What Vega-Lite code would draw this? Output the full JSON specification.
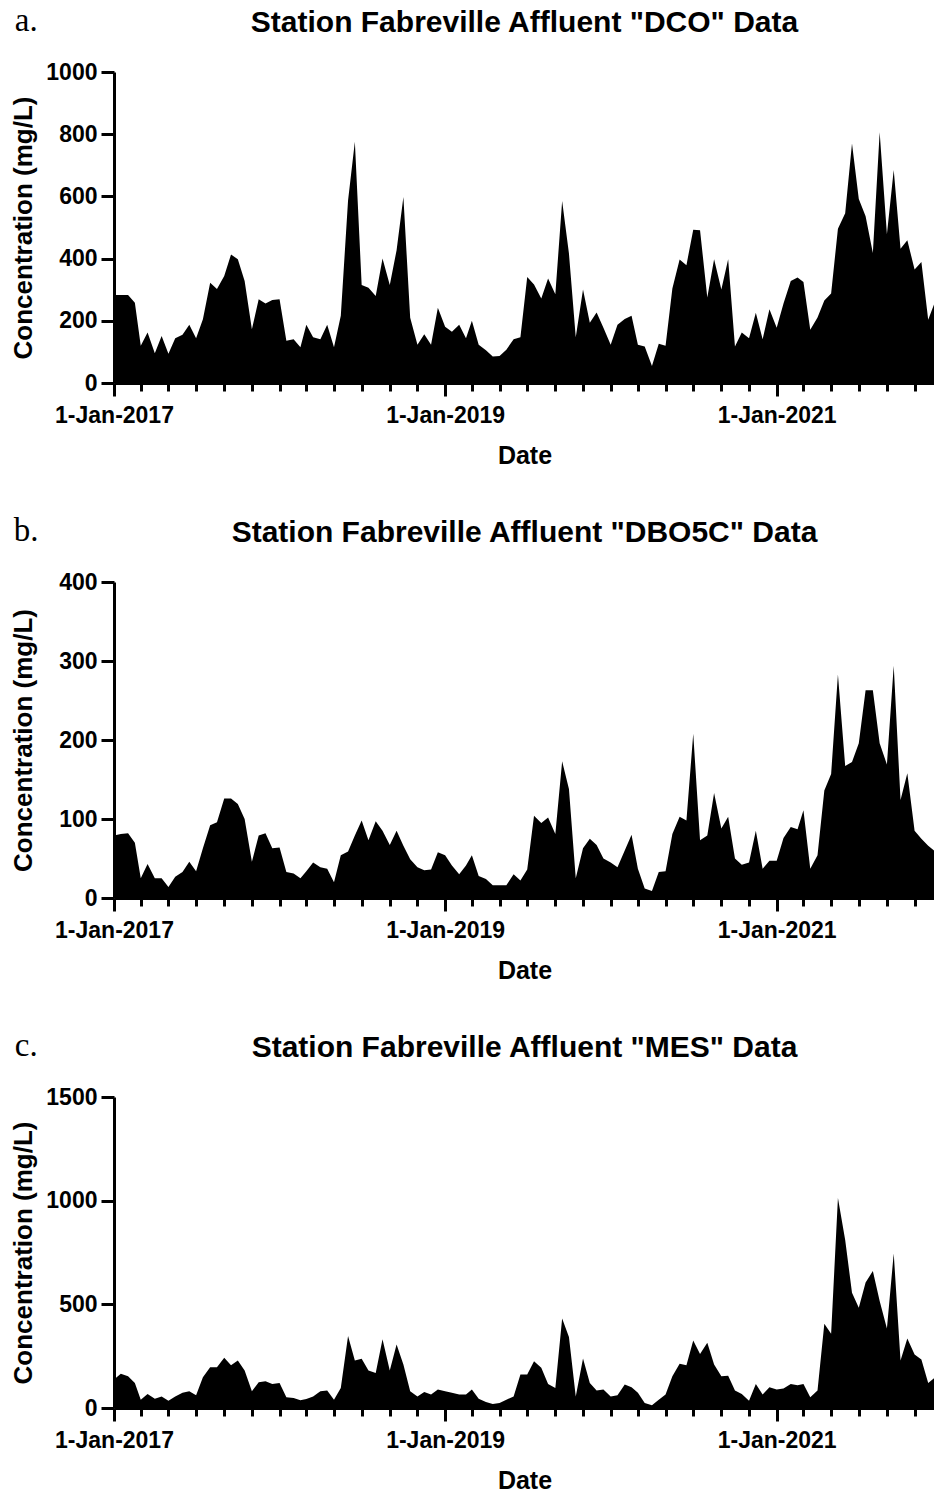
{
  "$schema": "https://vega.github.io/schema/vega-lite/v6.json",
  "padding": {"left": 10, "top": 5, "right": 0, "bottom": 0},
  "background": "white",
  "datasets": {
    "fab": [
      {"date":"2017-01-01","DCO":283,"DBO5C":79,"MES":137},
      {"date":"2017-01-16","DCO":283,"DBO5C":81,"MES":165},
      {"date":"2017-02-01","DCO":283,"DBO5C":82,"MES":153},
      {"date":"2017-02-16","DCO":258,"DBO5C":70,"MES":121},
      {"date":"2017-03-01","DCO":120,"DBO5C":25,"MES":40},
      {"date":"2017-03-16","DCO":162,"DBO5C":43,"MES":68},
      {"date":"2017-04-01","DCO":96,"DBO5C":25,"MES":45},
      {"date":"2017-04-16","DCO":151,"DBO5C":25,"MES":56},
      {"date":"2017-05-01","DCO":94,"DBO5C":14,"MES":35},
      {"date":"2017-05-16","DCO":144,"DBO5C":27,"MES":56},
      {"date":"2017-06-01","DCO":155,"DBO5C":33,"MES":73},
      {"date":"2017-06-16","DCO":187,"DBO5C":46,"MES":81},
      {"date":"2017-07-01","DCO":144,"DBO5C":34,"MES":61},
      {"date":"2017-07-16","DCO":205,"DBO5C":63,"MES":148},
      {"date":"2017-08-01","DCO":322,"DBO5C":92,"MES":197},
      {"date":"2017-08-16","DCO":302,"DBO5C":96,"MES":197},
      {"date":"2017-09-01","DCO":344,"DBO5C":126,"MES":242},
      {"date":"2017-09-16","DCO":413,"DBO5C":126,"MES":206},
      {"date":"2017-10-01","DCO":398,"DBO5C":119,"MES":229},
      {"date":"2017-10-16","DCO":328,"DBO5C":100,"MES":181},
      {"date":"2017-11-01","DCO":173,"DBO5C":46,"MES":81},
      {"date":"2017-11-16","DCO":269,"DBO5C":79,"MES":124},
      {"date":"2017-12-01","DCO":256,"DBO5C":82,"MES":129},
      {"date":"2017-12-16","DCO":267,"DBO5C":63,"MES":116},
      {"date":"2018-01-01","DCO":269,"DBO5C":64,"MES":121},
      {"date":"2018-01-16","DCO":136,"DBO5C":33,"MES":52},
      {"date":"2018-02-01","DCO":141,"DBO5C":31,"MES":48},
      {"date":"2018-02-16","DCO":115,"DBO5C":25,"MES":37},
      {"date":"2018-03-01","DCO":187,"DBO5C":34,"MES":44},
      {"date":"2018-03-16","DCO":147,"DBO5C":45,"MES":56},
      {"date":"2018-04-01","DCO":141,"DBO5C":39,"MES":81},
      {"date":"2018-04-16","DCO":187,"DBO5C":37,"MES":84},
      {"date":"2018-05-01","DCO":115,"DBO5C":20,"MES":40},
      {"date":"2018-05-16","DCO":216,"DBO5C":54,"MES":97},
      {"date":"2018-06-01","DCO":587,"DBO5C":59,"MES":347},
      {"date":"2018-06-16","DCO":776,"DBO5C":79,"MES":229},
      {"date":"2018-07-01","DCO":315,"DBO5C":98,"MES":237},
      {"date":"2018-07-16","DCO":306,"DBO5C":73,"MES":181},
      {"date":"2018-08-01","DCO":280,"DBO5C":97,"MES":169},
      {"date":"2018-08-16","DCO":400,"DBO5C":85,"MES":331},
      {"date":"2018-09-01","DCO":315,"DBO5C":67,"MES":181},
      {"date":"2018-09-16","DCO":427,"DBO5C":85,"MES":306},
      {"date":"2018-10-01","DCO":598,"DBO5C":66,"MES":210},
      {"date":"2018-10-16","DCO":210,"DBO5C":49,"MES":81},
      {"date":"2018-11-01","DCO":123,"DBO5C":39,"MES":56},
      {"date":"2018-11-16","DCO":157,"DBO5C":35,"MES":77},
      {"date":"2018-12-01","DCO":123,"DBO5C":36,"MES":65},
      {"date":"2018-12-16","DCO":242,"DBO5C":58,"MES":89},
      {"date":"2019-01-01","DCO":181,"DBO5C":54,"MES":81},
      {"date":"2019-01-16","DCO":165,"DBO5C":41,"MES":73},
      {"date":"2019-02-01","DCO":187,"DBO5C":30,"MES":65},
      {"date":"2019-02-16","DCO":144,"DBO5C":41,"MES":65},
      {"date":"2019-03-01","DCO":200,"DBO5C":54,"MES":89},
      {"date":"2019-03-16","DCO":123,"DBO5C":28,"MES":45},
      {"date":"2019-04-01","DCO":105,"DBO5C":24,"MES":29},
      {"date":"2019-04-16","DCO":85,"DBO5C":16,"MES":19},
      {"date":"2019-05-01","DCO":87,"DBO5C":16,"MES":24},
      {"date":"2019-05-16","DCO":107,"DBO5C":16,"MES":40},
      {"date":"2019-06-01","DCO":141,"DBO5C":30,"MES":56},
      {"date":"2019-06-16","DCO":147,"DBO5C":22,"MES":161},
      {"date":"2019-07-01","DCO":341,"DBO5C":36,"MES":161},
      {"date":"2019-07-16","DCO":317,"DBO5C":104,"MES":226},
      {"date":"2019-08-01","DCO":272,"DBO5C":95,"MES":194},
      {"date":"2019-08-16","DCO":336,"DBO5C":102,"MES":116},
      {"date":"2019-09-01","DCO":285,"DBO5C":81,"MES":97},
      {"date":"2019-09-16","DCO":585,"DBO5C":173,"MES":432},
      {"date":"2019-10-01","DCO":416,"DBO5C":138,"MES":342},
      {"date":"2019-10-16","DCO":147,"DBO5C":25,"MES":56},
      {"date":"2019-11-01","DCO":301,"DBO5C":63,"MES":239},
      {"date":"2019-11-16","DCO":194,"DBO5C":75,"MES":121},
      {"date":"2019-12-01","DCO":227,"DBO5C":67,"MES":84},
      {"date":"2019-12-16","DCO":178,"DBO5C":50,"MES":89},
      {"date":"2020-01-01","DCO":123,"DBO5C":45,"MES":56},
      {"date":"2020-01-16","DCO":187,"DBO5C":39,"MES":61},
      {"date":"2020-02-01","DCO":206,"DBO5C":60,"MES":113},
      {"date":"2020-02-16","DCO":216,"DBO5C":80,"MES":100},
      {"date":"2020-03-01","DCO":123,"DBO5C":37,"MES":73},
      {"date":"2020-03-16","DCO":117,"DBO5C":12,"MES":24},
      {"date":"2020-04-01","DCO":55,"DBO5C":9,"MES":13},
      {"date":"2020-04-16","DCO":126,"DBO5C":33,"MES":40},
      {"date":"2020-05-01","DCO":120,"DBO5C":34,"MES":65},
      {"date":"2020-05-16","DCO":304,"DBO5C":81,"MES":153},
      {"date":"2020-06-01","DCO":397,"DBO5C":103,"MES":213},
      {"date":"2020-06-16","DCO":379,"DBO5C":98,"MES":206},
      {"date":"2020-07-01","DCO":493,"DBO5C":208,"MES":326},
      {"date":"2020-07-16","DCO":491,"DBO5C":73,"MES":261},
      {"date":"2020-08-01","DCO":275,"DBO5C":79,"MES":315},
      {"date":"2020-08-16","DCO":398,"DBO5C":133,"MES":210},
      {"date":"2020-09-01","DCO":301,"DBO5C":88,"MES":153},
      {"date":"2020-09-16","DCO":398,"DBO5C":103,"MES":156},
      {"date":"2020-10-01","DCO":117,"DBO5C":50,"MES":84},
      {"date":"2020-10-16","DCO":162,"DBO5C":42,"MES":68},
      {"date":"2020-11-01","DCO":144,"DBO5C":45,"MES":35},
      {"date":"2020-11-16","DCO":226,"DBO5C":85,"MES":116},
      {"date":"2020-12-01","DCO":141,"DBO5C":37,"MES":65},
      {"date":"2020-12-16","DCO":237,"DBO5C":47,"MES":100},
      {"date":"2021-01-01","DCO":178,"DBO5C":47,"MES":89},
      {"date":"2021-01-16","DCO":256,"DBO5C":76,"MES":94},
      {"date":"2021-02-01","DCO":328,"DBO5C":90,"MES":116},
      {"date":"2021-02-16","DCO":339,"DBO5C":87,"MES":110},
      {"date":"2021-03-01","DCO":325,"DBO5C":111,"MES":116},
      {"date":"2021-03-16","DCO":171,"DBO5C":37,"MES":52},
      {"date":"2021-04-01","DCO":211,"DBO5C":54,"MES":84},
      {"date":"2021-04-16","DCO":265,"DBO5C":136,"MES":406},
      {"date":"2021-05-01","DCO":288,"DBO5C":157,"MES":358},
      {"date":"2021-05-16","DCO":496,"DBO5C":283,"MES":1013},
      {"date":"2021-06-01","DCO":546,"DBO5C":167,"MES":810},
      {"date":"2021-06-16","DCO":770,"DBO5C":172,"MES":556},
      {"date":"2021-07-01","DCO":592,"DBO5C":196,"MES":484},
      {"date":"2021-07-16","DCO":536,"DBO5C":263,"MES":605},
      {"date":"2021-08-01","DCO":418,"DBO5C":263,"MES":661},
      {"date":"2021-08-16","DCO":806,"DBO5C":196,"MES":516},
      {"date":"2021-09-01","DCO":478,"DBO5C":169,"MES":384},
      {"date":"2021-09-16","DCO":685,"DBO5C":294,"MES":745},
      {"date":"2021-10-01","DCO":432,"DBO5C":124,"MES":229},
      {"date":"2021-10-16","DCO":459,"DBO5C":158,"MES":335},
      {"date":"2021-11-01","DCO":365,"DBO5C":85,"MES":258},
      {"date":"2021-11-16","DCO":389,"DBO5C":75,"MES":234},
      {"date":"2021-12-01","DCO":203,"DBO5C":66,"MES":121},
      {"date":"2021-12-16","DCO":261,"DBO5C":59,"MES":148}
    ]
  },
  "data": {"name": "fab"},
  "spacing": 47,
  "vconcat": [
    {
      "title": {"text": "a.", "anchor": "start", "frame": "bounds", "font": "Liberation Serif", "fontSize": 33, "fontWeight": "normal", "color": "black", "offset": -30, "dx": 4},
      "vconcat": [
        {
          "title": {"text": "Station Fabreville Affluent \"DCO\" Data", "anchor": "middle", "frame": "group", "fontSize": 30, "fontWeight": "bold", "color": "black", "offset": 23},
          "width": 821,
          "height": 311,
          "mark": {"type": "area", "color": "black", "interpolate": "linear"},
          "encoding": {
            "x": {"field": "date", "type": "temporal",
              "scale": {"type": "utc", "domain": [{"year": 2017, "month": 1, "date": 1, "utc": true}, {"year": 2021, "month": 12, "date": 16, "utc": true}]},
              "axis": {"title": "Date", "titlePadding": 16, "labelPadding": 8, "labelFlush": false, "labelOverlap": false,
                "values": [{"year":2017,"month":1,"date":1,"utc":true},{"year":2017,"month":3,"date":1,"utc":true},{"year":2017,"month":5,"date":1,"utc":true},{"year":2017,"month":7,"date":1,"utc":true},{"year":2017,"month":9,"date":1,"utc":true},{"year":2017,"month":11,"date":1,"utc":true},{"year":2018,"month":1,"date":1,"utc":true},{"year":2018,"month":3,"date":1,"utc":true},{"year":2018,"month":5,"date":1,"utc":true},{"year":2018,"month":7,"date":1,"utc":true},{"year":2018,"month":9,"date":1,"utc":true},{"year":2018,"month":11,"date":1,"utc":true},{"year":2019,"month":1,"date":1,"utc":true},{"year":2019,"month":3,"date":1,"utc":true},{"year":2019,"month":5,"date":1,"utc":true},{"year":2019,"month":7,"date":1,"utc":true},{"year":2019,"month":9,"date":1,"utc":true},{"year":2019,"month":11,"date":1,"utc":true},{"year":2020,"month":1,"date":1,"utc":true},{"year":2020,"month":3,"date":1,"utc":true},{"year":2020,"month":5,"date":1,"utc":true},{"year":2020,"month":7,"date":1,"utc":true},{"year":2020,"month":9,"date":1,"utc":true},{"year":2020,"month":11,"date":1,"utc":true},{"year":2021,"month":1,"date":1,"utc":true},{"year":2021,"month":3,"date":1,"utc":true},{"year":2021,"month":5,"date":1,"utc":true},{"year":2021,"month":7,"date":1,"utc":true},{"year":2021,"month":9,"date":1,"utc":true},{"year":2021,"month":11,"date":1,"utc":true}],
                "labelExpr": "(utcmonth(datum.value) == 0 && utcyear(datum.value) % 2 == 1) ? utcFormat(datum.value, '%-d-%b-%Y') : ''",
                "tickSize": {"condition": {"test": "utcmonth(datum.value) == 0 && utcyear(datum.value) % 2 == 1", "value": 13}, "value": 8}}},
            "y": {"field": "DCO", "type": "quantitative", "scale": {"domain": [0, 1000], "nice": false},
              "axis": {"title": "Concentration (mg/L)", "format": "d", "values": [0, 200, 400, 600, 800, 1000], "tickSize": 13, "labelPadding": 4, "titlePadding": 9}}
          }
        }
      ]
    },
    {
      "title": {"text": "b.", "anchor": "start", "frame": "bounds", "font": "Liberation Serif", "fontSize": 33, "fontWeight": "normal", "color": "black", "offset": -30, "dx": 3},
      "vconcat": [
        {
          "title": {"text": "Station Fabreville Affluent \"DBO5C\" Data", "anchor": "middle", "frame": "group", "fontSize": 30, "fontWeight": "bold", "color": "black", "offset": 23},
          "width": 821,
          "height": 316,
          "mark": {"type": "area", "color": "black", "interpolate": "linear"},
          "encoding": {
            "x": {"field": "date", "type": "temporal",
              "scale": {"type": "utc", "domain": [{"year": 2017, "month": 1, "date": 1, "utc": true}, {"year": 2021, "month": 12, "date": 16, "utc": true}]},
              "axis": {"title": "Date", "titlePadding": 16, "labelPadding": 8, "labelFlush": false, "labelOverlap": false,
                "values": [{"year":2017,"month":1,"date":1,"utc":true},{"year":2017,"month":3,"date":1,"utc":true},{"year":2017,"month":5,"date":1,"utc":true},{"year":2017,"month":7,"date":1,"utc":true},{"year":2017,"month":9,"date":1,"utc":true},{"year":2017,"month":11,"date":1,"utc":true},{"year":2018,"month":1,"date":1,"utc":true},{"year":2018,"month":3,"date":1,"utc":true},{"year":2018,"month":5,"date":1,"utc":true},{"year":2018,"month":7,"date":1,"utc":true},{"year":2018,"month":9,"date":1,"utc":true},{"year":2018,"month":11,"date":1,"utc":true},{"year":2019,"month":1,"date":1,"utc":true},{"year":2019,"month":3,"date":1,"utc":true},{"year":2019,"month":5,"date":1,"utc":true},{"year":2019,"month":7,"date":1,"utc":true},{"year":2019,"month":9,"date":1,"utc":true},{"year":2019,"month":11,"date":1,"utc":true},{"year":2020,"month":1,"date":1,"utc":true},{"year":2020,"month":3,"date":1,"utc":true},{"year":2020,"month":5,"date":1,"utc":true},{"year":2020,"month":7,"date":1,"utc":true},{"year":2020,"month":9,"date":1,"utc":true},{"year":2020,"month":11,"date":1,"utc":true},{"year":2021,"month":1,"date":1,"utc":true},{"year":2021,"month":3,"date":1,"utc":true},{"year":2021,"month":5,"date":1,"utc":true},{"year":2021,"month":7,"date":1,"utc":true},{"year":2021,"month":9,"date":1,"utc":true},{"year":2021,"month":11,"date":1,"utc":true}],
                "labelExpr": "(utcmonth(datum.value) == 0 && utcyear(datum.value) % 2 == 1) ? utcFormat(datum.value, '%-d-%b-%Y') : ''",
                "tickSize": {"condition": {"test": "utcmonth(datum.value) == 0 && utcyear(datum.value) % 2 == 1", "value": 13}, "value": 8}}},
            "y": {"field": "DBO5C", "type": "quantitative", "scale": {"domain": [0, 400], "nice": false},
              "axis": {"title": "Concentration (mg/L)", "format": "d", "values": [0, 100, 200, 300, 400], "tickSize": 13, "labelPadding": 4, "titlePadding": 22}}
          }
        }
      ]
    },
    {
      "title": {"text": "c.", "anchor": "start", "frame": "bounds", "font": "Liberation Serif", "fontSize": 33, "fontWeight": "normal", "color": "black", "offset": -30, "dx": 4},
      "vconcat": [
        {
          "title": {"text": "Station Fabreville Affluent \"MES\" Data", "anchor": "middle", "frame": "group", "fontSize": 30, "fontWeight": "bold", "color": "black", "offset": 23},
          "width": 821,
          "height": 311,
          "mark": {"type": "area", "color": "black", "interpolate": "linear"},
          "encoding": {
            "x": {"field": "date", "type": "temporal",
              "scale": {"type": "utc", "domain": [{"year": 2017, "month": 1, "date": 1, "utc": true}, {"year": 2021, "month": 12, "date": 16, "utc": true}]},
              "axis": {"title": "Date", "titlePadding": 16, "labelPadding": 8, "labelFlush": false, "labelOverlap": false,
                "values": [{"year":2017,"month":1,"date":1,"utc":true},{"year":2017,"month":3,"date":1,"utc":true},{"year":2017,"month":5,"date":1,"utc":true},{"year":2017,"month":7,"date":1,"utc":true},{"year":2017,"month":9,"date":1,"utc":true},{"year":2017,"month":11,"date":1,"utc":true},{"year":2018,"month":1,"date":1,"utc":true},{"year":2018,"month":3,"date":1,"utc":true},{"year":2018,"month":5,"date":1,"utc":true},{"year":2018,"month":7,"date":1,"utc":true},{"year":2018,"month":9,"date":1,"utc":true},{"year":2018,"month":11,"date":1,"utc":true},{"year":2019,"month":1,"date":1,"utc":true},{"year":2019,"month":3,"date":1,"utc":true},{"year":2019,"month":5,"date":1,"utc":true},{"year":2019,"month":7,"date":1,"utc":true},{"year":2019,"month":9,"date":1,"utc":true},{"year":2019,"month":11,"date":1,"utc":true},{"year":2020,"month":1,"date":1,"utc":true},{"year":2020,"month":3,"date":1,"utc":true},{"year":2020,"month":5,"date":1,"utc":true},{"year":2020,"month":7,"date":1,"utc":true},{"year":2020,"month":9,"date":1,"utc":true},{"year":2020,"month":11,"date":1,"utc":true},{"year":2021,"month":1,"date":1,"utc":true},{"year":2021,"month":3,"date":1,"utc":true},{"year":2021,"month":5,"date":1,"utc":true},{"year":2021,"month":7,"date":1,"utc":true},{"year":2021,"month":9,"date":1,"utc":true},{"year":2021,"month":11,"date":1,"utc":true}],
                "labelExpr": "(utcmonth(datum.value) == 0 && utcyear(datum.value) % 2 == 1) ? utcFormat(datum.value, '%-d-%b-%Y') : ''",
                "tickSize": {"condition": {"test": "utcmonth(datum.value) == 0 && utcyear(datum.value) % 2 == 1", "value": 13}, "value": 8}}},
            "y": {"field": "MES", "type": "quantitative", "scale": {"domain": [0, 1500], "nice": false},
              "axis": {"title": "Concentration (mg/L)", "format": "d", "values": [0, 500, 1000, 1500], "tickSize": 13, "labelPadding": 4, "titlePadding": 9}}
          }
        }
      ]
    }
  ],
  "config": {
    "view": {"stroke": null},
    "font": "Liberation Sans",
    "title": {"font": "Liberation Sans", "color": "black"},
    "axis": {
      "grid": false,
      "domainColor": "black", "domainWidth": 3,
      "tickColor": "black", "tickWidth": 3,
      "labelFont": "Liberation Sans", "labelFontWeight": "bold", "labelFontSize": 23, "labelColor": "black",
      "titleFont": "Liberation Sans", "titleFontWeight": "bold", "titleFontSize": 26, "titleColor": "black"
    },
    "axisX": {"titleFontSize": 25}
  }
}
